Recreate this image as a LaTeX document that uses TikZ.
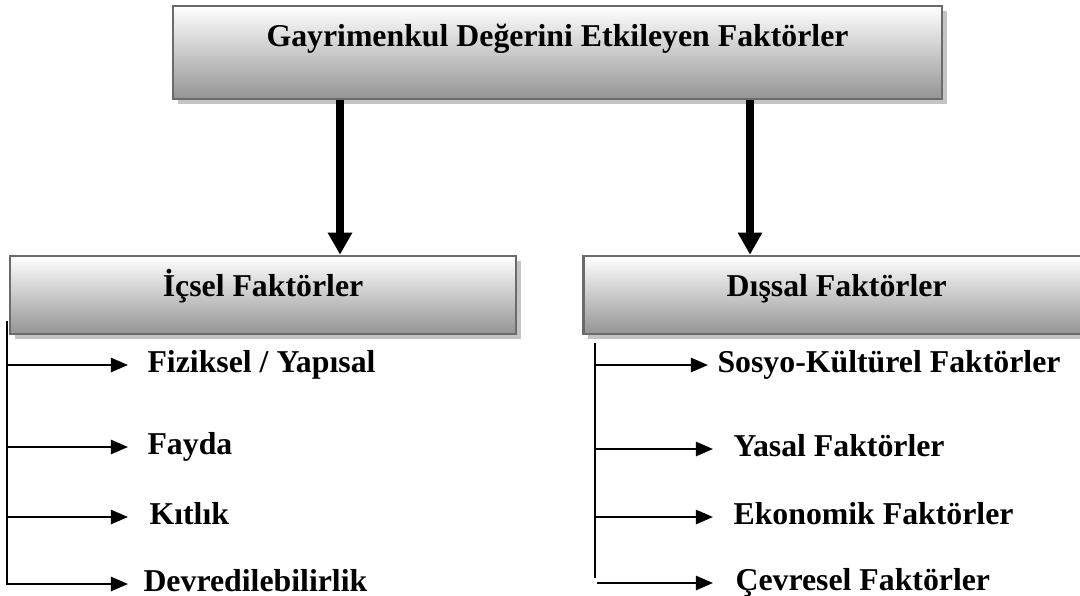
\documentclass[tikz,border=0pt]{standalone}
\usepackage{fontspec}
\setmainfont{Liberation Serif}
\usepackage{tikz}
\usetikzlibrary{arrows.meta, positioning, shadows, calc}
\definecolor{kutuCerceve}{RGB}{107,107,107}
\definecolor{kutuGolge}{RGB}{196,196,196}
\definecolor{kutuAlt}{RGB}{148,148,148}
\newlength{\pxu}
\setlength{\pxu}{0.3774pt}

\begin{document}
\begin{tikzpicture}[
    x=0.3774pt, y=-0.3774pt,
    kutu/.style={rectangle, draw=kutuCerceve, line width=1pt, top color=white, bottom color=kutuAlt,
        drop shadow={shadow xshift=1.7pt, shadow yshift=-2pt, fill=kutuGolge, opacity=1},
        font=\bfseries\fontsize{12}{14}\selectfont, inner sep=0pt},
    ustkutu/.style={kutu, minimum width=769\pxu, minimum height=93\pxu, text height=9pt, text depth=13.4pt},
    altkutu/.style={kutu, minimum width=506\pxu, minimum height=78\pxu, text height=10pt, text depth=8.5pt},
    madde/.style={anchor=west, inner sep=0pt, font=\bfseries\fontsize{12}{14}\selectfont, text height=8.5pt, text depth=2.5pt},
    kalinok/.style={-{Triangle[length=8.3pt, width=8.7pt]}, line width=3pt},
    ince/.style={line width=0.8pt},
    inceok/.style={ince, -{Triangle[length=6.5pt, width=5.4pt]}}
]
\clip (0,0) rectangle (1080,595);

% Ana baslik
\node[ustkutu] (baslik) at (557.5,52.5) {Gayrimenkul Değerini Etkileyen Faktörler};

% Alt basliklar
\node[altkutu] (icsel) at (263,295) {İçsel Faktörler};
\node[altkutu, right=65\pxu of icsel] (dissal) {Dışsal Faktörler};

% Icsel faktorler
\node[madde] (fiziksel) at (147,365) {Fiziksel / Yapısal};
\node[madde] (fayda) at (147,447) {Fayda};
\node[madde] (kitlik) at (149,517) {Kıtlık};
\node[madde] (devred) at (143,584) {Devredilebilirlik};

% Dissal faktorler
\node[madde] (sosyo) at (717,365) {Sosyo-Kültürel Faktörler};
\node[madde] (yasal) at (733,449) {Yasal Faktörler};
\node[madde] (ekonomik) at (733,517) {Ekonomik Faktörler};
\node[madde] (cevresel) at (735,583) {Çevresel Faktörler};

% Ana oklar
\draw[kalinok] ([xshift=-217.5\pxu]baslik.south) coordinate (solok) -- (solok |- icsel.north);
\draw[kalinok] ([xshift=192.5\pxu]baslik.south) coordinate (sagok) -- (sagok |- dissal.north);

% Icsel kolu
\coordinate (solhat) at ([xshift=-1.5\pxu, yshift=14\pxu]icsel.south west);
\draw[inceok, shorten >=15\pxu] (solhat) |- (devred.west);
\draw[inceok, shorten >=19\pxu] (solhat |- fiziksel.west) -- (fiziksel.west);
\draw[inceok, shorten >=19\pxu] (solhat |- fayda.west) -- (fayda.west);
\draw[inceok, shorten >=21\pxu] (solhat |- kitlik.west) -- (kitlik.west);

% Dissal kolu
\coordinate (saghat) at ([xshift=13\pxu, yshift=-8\pxu]dissal.south west);
\coordinate (sagalt) at (saghat |- cevresel.west);
\draw[ince] (saghat) -- ([yshift=5\pxu]sagalt);
\draw[inceok, shorten >=9\pxu] (saghat |- sosyo.west) -- (sosyo.west);
\draw[inceok, shorten >=20\pxu] (saghat |- yasal.west) -- (yasal.west);
\draw[inceok, shorten >=20\pxu] (saghat |- ekonomik.west) -- (ekonomik.west);
\draw[inceok, shorten >=22\pxu] ([xshift=2\pxu]sagalt) -- (cevresel.west);

\end{tikzpicture}
\end{document}
